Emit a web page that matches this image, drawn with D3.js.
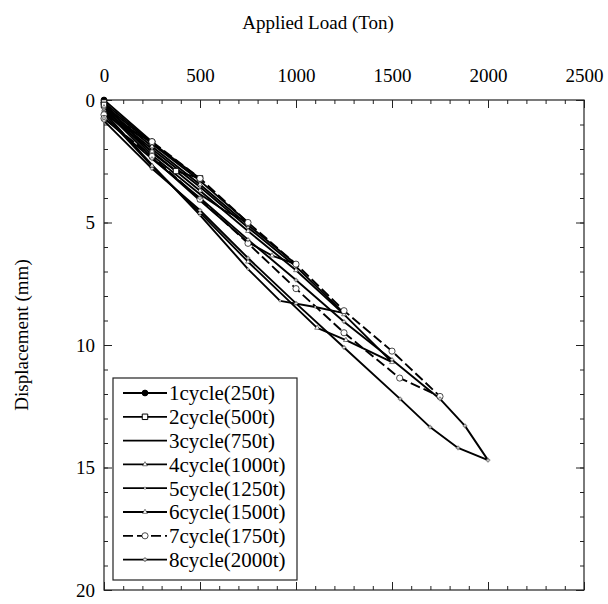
<!DOCTYPE html>
<html>
<head>
<meta charset="utf-8">
<script src="https://cdn.jsdelivr.net/npm/d3@7"></script>
<style>
  html, body { margin: 0; padding: 0; background: #fff; }
  svg { display: block; }
  text { font-family: "Liberation Serif", "Times New Roman", serif; fill: #000; }
</style>
</head>
<body>
<svg id="chart" width="608" height="604"></svg>
<script>
// ---- data (load in ton, displacement in mm) ----
const seriesNames = ["1cycle(250t)", "2cycle(500t)", "3cycle(750t)", "4cycle(1000t)",
                     "5cycle(1250t)", "6cycle(1500t)", "7cycle(1750t)", "8cycle(2000t)"];
const xTicks = [0, 500, 1000, 1500, 2000, 2500];
const yTicks = [0, 5, 10, 15, 20];

const load1 = [0, 250, 125, 0];
const disp1 = [0, 1.7, 1.2, 0.1];
const load2 = [0, 250, 500, 375, 250, 0];
const disp2 = [0.1, 1.75, 3.2, 2.9, 2.15, 0.2];
const load3 = [0, 250, 500, 750, 625, 500, 250, 0];
const disp3 = [0.2, 1.8, 3.3, 5.0, 4.5, 3.85, 2.25, 0.3];
const load4 = [0, 250, 500, 750, 1000, 875, 750, 500, 250, 0];
const disp4 = [0.3, 1.9, 3.45, 5.1, 6.7, 6.35, 5.8, 4.1, 2.35, 0.4];
const load5 = [0, 250, 500, 750, 1000, 1250, 1100, 917, 750, 500, 250, 0];
const disp5 = [0.4, 2.0, 3.55, 5.2, 6.8, 8.7, 8.45, 8.2, 6.9, 4.7, 2.65, 0.5];
const load6 = [0, 250, 500, 750, 1000, 1250, 1500, 1260, 1110, 750, 500, 250, 0];
const disp6 = [0.5, 2.1, 3.7, 5.35, 6.95, 8.75, 10.7, 9.8, 9.3, 6.6, 4.6, 2.7, 0.6];
const load7 = [0, 250, 500, 750, 1000, 1250, 1500, 1750, 1540, 1250, 1000, 750, 500, 250, 0];
const disp7 = [0.6, 1.7, 3.2, 5.0, 6.7, 8.6, 10.25, 12.1, 11.35, 9.5, 7.7, 5.85, 4.05, 2.3, 0.75];
const load8 = [0, 250, 500, 750, 1000, 1250, 1500, 1750, 1880, 2000, 1844, 1698, 1542, 1250, 1000, 750, 500, 250, 0];
const disp8 = [0.75, 2.4, 4.0, 5.7, 7.35, 9.05, 10.6, 12.2, 13.3, 14.7, 14.2, 13.35, 12.2, 10.1, 8.3, 6.45, 4.5, 2.8, 0.85];

const loads = [load1, load2, load3, load4, load5, load6, load7, load8];
const disps = [disp1, disp2, disp3, disp4, disp5, disp6, disp7, disp8];
const series = seriesNames.map((name, i) => ({
  name, points: loads[i].map((p, j) => ({ p, d: disps[i][j] }))
}));

// ---- styles per series ----
const symbols = [d3.symbolCircle, d3.symbolSquare, null, d3.symbolTriangle,
                 d3.symbolCircle, d3.symbolTriangle, d3.symbolCircle, d3.symbolCross];
const symSize = [26, 30, 0, 10, 4, 10, 30, 8];
const symFill = ["#000", "#fff", "#fff", "#fff", "#fff", "#fff", "#fff", "#fff"];
const symStroke = [1, 1, 0, 0.5, 0.4, 0.5, 0.7, 0.4];
const dashes  = [null, null, null, null, null, null, "10,4", null];

// ---- layout ----
const svg = d3.select("#chart");
const L = 104, R = 584, T = 100, B = 590;
const x = d3.scaleLinear().domain([0, 2500]).range([L, R]);
const y = d3.scaleLinear().domain([0, 20]).range([T, B]);

const minorX = d3.range(0, 2501, 100);
const minorY = d3.range(0, 20.01, 1);

function styleAxis(g) {
  g.selectAll(".domain").remove();
  g.selectAll("line").attr("stroke", "#222").attr("stroke-width", 1);
  g.selectAll("text").style("font-size", "19px").style("font-family", "Liberation Serif, serif");
}

// minor ticks
svg.append("g").attr("transform", `translate(0,${T})`)
  .call(d3.axisTop(x).tickValues(minorX).tickSize(-4).tickFormat("")).call(styleAxis);
svg.append("g").attr("transform", `translate(0,${B})`)
  .call(d3.axisBottom(x).tickValues(minorX).tickSize(-4).tickFormat("")).call(styleAxis);
svg.append("g").attr("transform", `translate(${L},0)`)
  .call(d3.axisLeft(y).tickValues(minorY).tickSize(-4).tickFormat("")).call(styleAxis);
svg.append("g").attr("transform", `translate(${R},0)`)
  .call(d3.axisRight(y).tickValues(minorY).tickSize(-4).tickFormat("")).call(styleAxis);

// major ticks + labels
svg.append("g").attr("transform", `translate(0,${T})`)
  .call(d3.axisTop(x).tickValues(xTicks).tickSize(-8).tickPadding(18).tickFormat(d3.format("d"))).call(styleAxis);
svg.append("g").attr("transform", `translate(0,${B})`)
  .call(d3.axisBottom(x).tickValues(xTicks).tickSize(-8).tickFormat("")).call(styleAxis);
svg.append("g").attr("transform", `translate(${L},0)`)
  .call(d3.axisLeft(y).tickValues(yTicks).tickSize(-8).tickPadding(9).tickFormat(d3.format("d"))).call(styleAxis);
svg.append("g").attr("transform", `translate(${R},0)`)
  .call(d3.axisRight(y).tickValues(yTicks).tickSize(-8).tickFormat("")).call(styleAxis);

// frame
svg.append("rect").attr("x", L).attr("y", T).attr("width", R - L).attr("height", B - T)
  .attr("fill", "none").attr("stroke", "#222").attr("stroke-width", 1.2);

// titles
svg.append("text").attr("x", 318).attr("y", 29).attr("text-anchor", "middle")
  .style("font-size", "19px").text("Applied Load (Ton)");
svg.append("text").attr("transform", "translate(28,335) rotate(-90)").attr("text-anchor", "middle")
  .style("font-size", "19px").text("Displacement (mm)");

// lines
const line = d3.line().x(d => x(d.p)).y(d => y(d.d));
const plot = svg.append("g");
series.forEach((s, i) => {
  plot.append("path").datum(s.points).attr("d", line)
    .attr("fill", "none").attr("stroke", "#000").attr("stroke-width", 1.9)
    .attr("stroke-linejoin", "round")
    .attr("stroke-dasharray", dashes[i]);
});
series.forEach((s, i) => {
  if (!symbols[i]) return;
  const sym = d3.symbol().type(symbols[i]).size(symSize[i]);
  plot.append("g").selectAll("path").data(s.points).join("path")
    .attr("transform", d => `translate(${x(d.p)},${y(d.d)})`)
    .attr("d", sym).attr("fill", symFill[i]).attr("stroke", "#000").attr("stroke-width", symStroke[i]);
});

// legend
const lg = svg.append("g");
lg.append("rect").attr("x", 113).attr("y", 378).attr("width", 184).attr("height", 202)
  .attr("fill", "#fff").attr("stroke", "#222").attr("stroke-width", 1.2);
series.forEach((s, i) => {
  const yy = 393 + i * 23.8;
  lg.append("line").attr("x1", 123).attr("x2", 167).attr("y1", yy).attr("y2", yy)
    .attr("stroke", "#000").attr("stroke-width", 1.8).attr("stroke-dasharray", dashes[i]);
  if (symbols[i]) {
    lg.append("path").attr("transform", `translate(145,${yy})`)
      .attr("d", d3.symbol().type(symbols[i]).size(symSize[i])())
      .attr("fill", i === 0 ? "#000" : "#fff").attr("stroke", "#000").attr("stroke-width", symStroke[i]);
  }
  lg.append("text").attr("x", 169).attr("y", yy).attr("dy", "0.35em")
    .style("font-size", "21px").text(s.name);
});
</script>
</body>
</html>
